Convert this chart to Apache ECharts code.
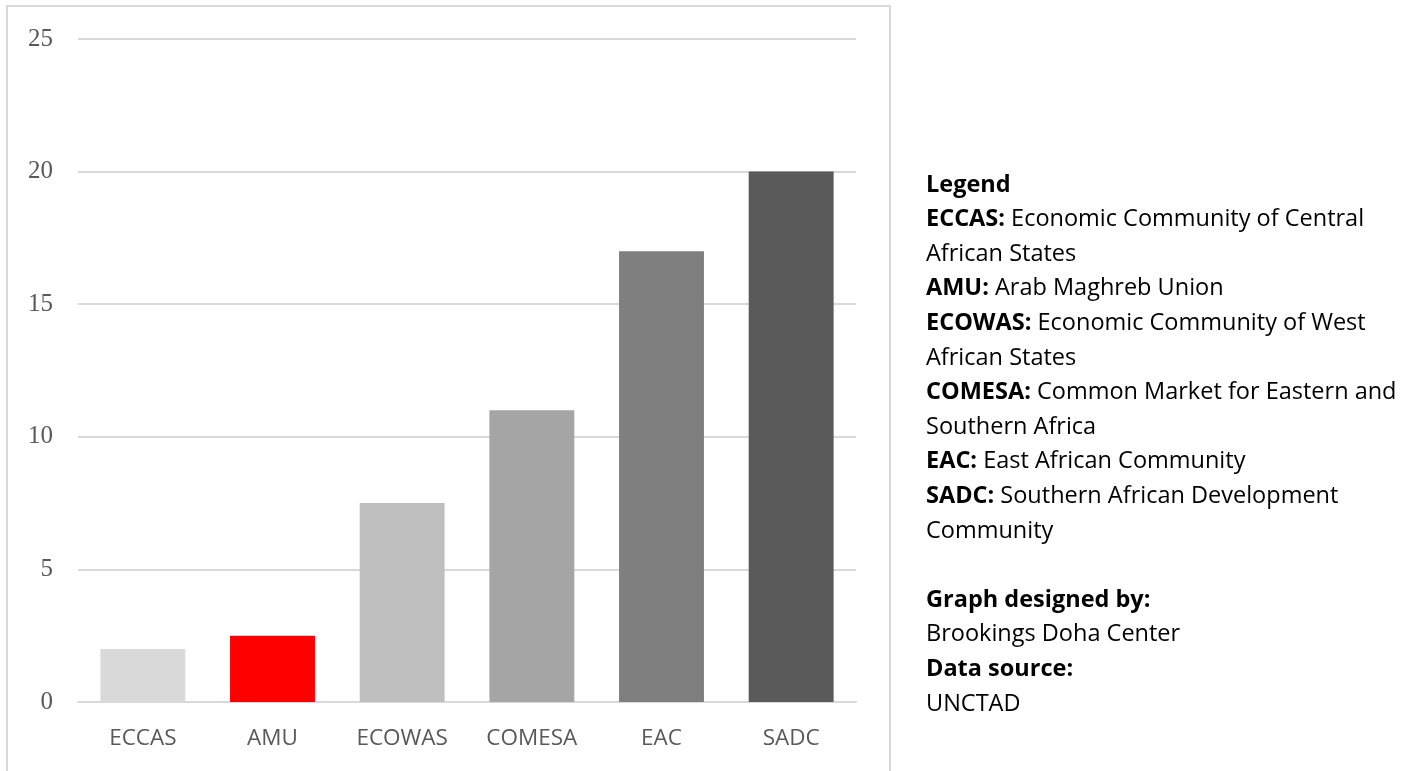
<!DOCTYPE html>
<html>
<head>
<meta charset="utf-8">
<script src="https://cdn.jsdelivr.net/npm/echarts@6/dist/echarts.min.js"></script>
<style>
  html, body { margin: 0; padding: 0; background: #ffffff; }
  #chart { width: 1419px; height: 771px; }
</style>
</head>
<body>
<div id="chart"></div>
<script>
// Regional economic communities and their values
const categories = ['ECCAS', 'AMU', 'ECOWAS', 'COMESA', 'EAC', 'SADC'];
const values = [2, 2.5, 7.5, 11, 17, 20];
const barColors = ['#d9d9d9', '#ff0000', '#bfbfbf', '#a5a5a5', '#7f7f7f', '#5a5a5a'];
const yTicks = { min: 0, max: 25, interval: 5 };

// Legend panel lines: [bold part, regular part]
const legendLines = [
  ['Legend', ''],
  ['ECCAS:', ' Economic Community of Central'],
  ['', 'African States'],
  ['AMU:', ' Arab Maghreb Union'],
  ['ECOWAS:', ' Economic Community of West'],
  ['', 'African States'],
  ['COMESA:', ' Common Market for Eastern and'],
  ['', 'Southern Africa'],
  ['EAC:', ' East African Community'],
  ['SADC:', ' Southern African Development'],
  ['', 'Community'],
  ['', ''],
  ['Graph designed by:', ''],
  ['', 'Brookings Doha Center'],
  ['Data source:', ''],
  ['', 'UNCTAD']
];

const panelFont = 'Open Sans';
const lineTop = 187;
const lineStep = 34.6;

const legendGraphics = legendLines.map(function (ln, i) {
  let txt = '';
  if (ln[0]) txt += '{b|' + ln[0] + '}';
  if (ln[1]) txt += '{r|' + ln[1] + '}';
  return {
    type: 'text',
    left: 926,
    top: lineTop + i * lineStep - 14,
    style: {
      text: txt,
      rich: {
        b: { fontFamily: panelFont, fontSize: 23.5, fontWeight: 'bold', fill: '#000000' },
        r: { fontFamily: panelFont, fontSize: 23.5, fill: '#000000' }
      }
    }
  };
}).filter(function (g) { return g.style.text !== ''; });

const chart = echarts.init(document.getElementById('chart'), null, { renderer: 'canvas' });

chart.setOption({
  animation: false,
  backgroundColor: '#ffffff',
  grid: { left: 78, right: 563, top: 39, bottom: 69, containLabel: false },
  xAxis: {
    type: 'category',
    data: categories,
    axisLine: { show: true, lineStyle: { color: '#d9d9d9', width: 2 } },
    axisTick: { show: false },
    axisLabel: {
      color: '#595959',
      fontFamily: panelFont,
      fontSize: 22.5,
      margin: 25
    }
  },
  yAxis: {
    type: 'value',
    min: yTicks.min,
    max: yTicks.max,
    interval: yTicks.interval,
    axisLine: { show: false },
    axisTick: { show: false },
    splitLine: { lineStyle: { color: '#d9d9d9', width: 2 } },
    axisLabel: {
      color: '#595959',
      fontFamily: 'Liberation Serif',
      fontSize: 25,
      margin: 25
    }
  },
  series: [{
    type: 'bar',
    data: values.map(function (v, i) {
      return { value: v, itemStyle: { color: barColors[i] } };
    }),
    barCategoryGap: '34.5%'
  }],
  graphic: [
    {
      type: 'rect',
      shape: { x: 7, y: 6, width: 883, height: 775 },
      style: { fill: 'none', stroke: '#d9d9d9', lineWidth: 2 },
      silent: true
    }
  ].concat(legendGraphics)
});
</script>
</body>
</html>
